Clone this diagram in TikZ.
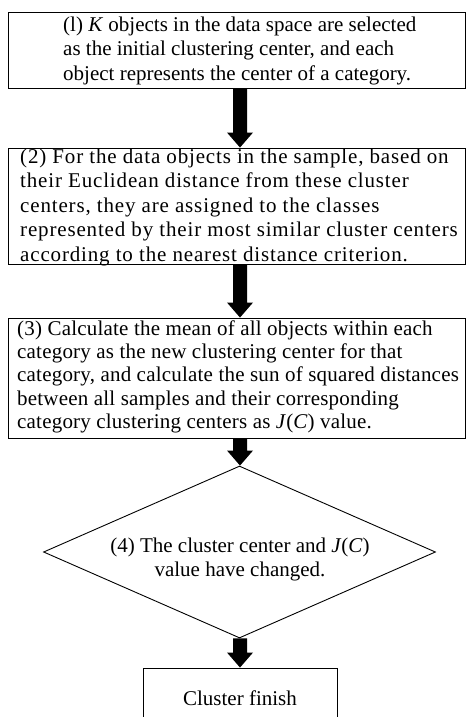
\documentclass[tikz,border=0pt]{standalone}
\usepackage{fontspec}
\setmainfont{Liberation Serif}
\newfontfamily\widefont[LetterSpace=4]{Liberation Serif}
\newfontfamily\semiwidefont[LetterSpace=1]{Liberation Serif}
\usetikzlibrary{shapes.geometric,calc}
\newcommand\fatarrow[3]{%
  \fill let \p1=(#1.south -| #3), \p2=(#2.north -| #3) in
    (\x1-7pt,\y1) -- (\x1-7pt,\y2+15pt) -- (\x1-13pt,\y2+15pt) -- (\x2,\y2)
    -- (\x1+13pt,\y2+15pt) -- (\x1+7pt,\y2+15pt) -- (\x1+7pt,\y1) -- cycle;}
\begin{document}
\begin{tikzpicture}[x=1pt,y=-1pt,
  box/.style={draw, line width=0.9pt, inner sep=0pt, rectangle},
  dia/.style={draw, line width=0.9pt, inner sep=0pt, diamond},
  txt/.style={anchor=north west, inner sep=0pt, align=left},
  ctxt/.style={anchor=north, inner sep=0pt, align=center}
]
\useasboundingbox (0,0) rectangle (471,717);
\coordinate (col) at (240,0);
% boxes
\node[box, minimum width=457pt, minimum height=76pt]  (b1) at (236.5,50) {};
\node[box, minimum width=457pt, minimum height=116pt] (b2) at (236.5,206) {};
\node[box, minimum width=457pt, minimum height=120pt] (b3) at (236.5,378) {};
\node[dia, minimum width=392pt, minimum height=172pt] (d) at (239.5,552) {};
\node[box, minimum width=194pt, minimum height=72pt]  (b5) at (240,704) {};
% texts
\node[txt, font=\fontsize{21}{24.5}\selectfont] (t1) at (63,13)
 {\rule{0pt}{18pt}(l) \textit{K} objects in the data space are selected\\
  as the initial clustering center, and each\\
  object represents the center of a category.};
\node[txt, font=\widefont\fontsize{21}{24.5}\selectfont] (t2) at (20,145)
 {\rule{0pt}{18pt}(2) For the data objects in the sample, based on\\
  their Euclidean distance from these cluster\\
  centers, they are assigned to the classes\\
  represented by their most similar cluster centers\\
  according to the nearest distance criterion.};
\node[txt, font=\semiwidefont\fontsize{21}{23.3}\selectfont] (t3) at (17,317)
 {\rule{0pt}{18pt}(3) Calculate the mean of all objects within each\\
  category as the new clustering center for that\\
  category, and calculate the sun of squared distances\\
  between all samples and their corresponding\\
  category clustering centers as \textit{J}(\textit{C}) value.};
\node[ctxt, font=\fontsize{21}{24}\selectfont] (t4) at (240,534)
 {\rule{0pt}{18pt}(4) The cluster center and \textit{J}(\textit{C})\\
  value have changed.};
\node[ctxt, font=\fontsize{21}{24}\selectfont] (t5) at (240,687)
 {\rule{0pt}{18pt}Cluster finish};
% connectors
\fatarrow{b1}{b2}{col}
\fatarrow{b2}{b3}{col}
\fatarrow{b3}{d}{col}
\fatarrow{d}{b5}{col}
\end{tikzpicture}
\end{document}
